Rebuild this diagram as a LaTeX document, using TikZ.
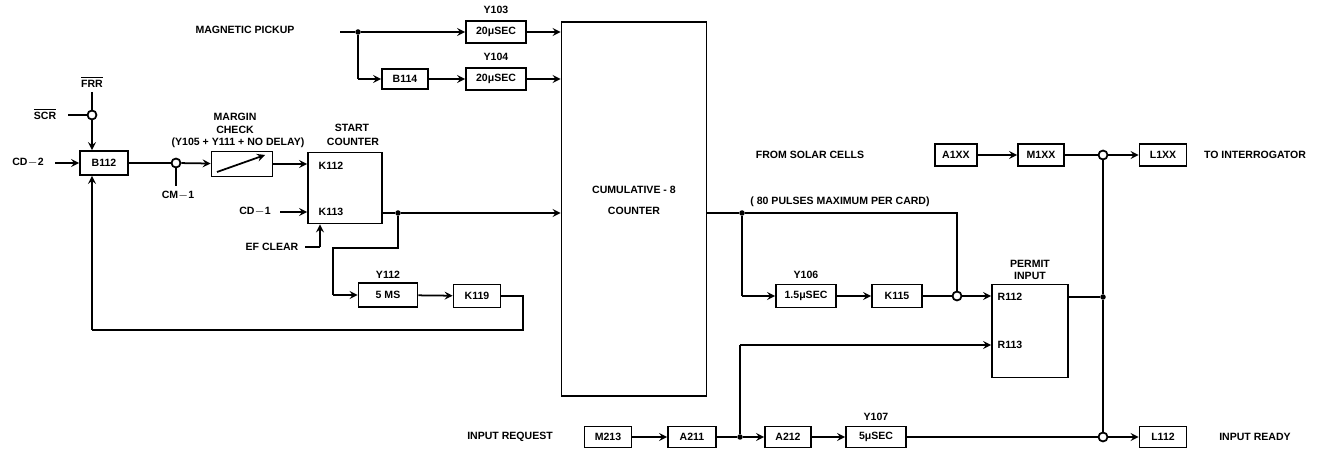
\documentclass[tikz,border=0pt]{standalone}
\usepackage{fontspec}
\setmainfont{Liberation Sans}
\usetikzlibrary{arrows,arrows.meta,calc,positioning}
\newcommand{\lblfont}{\fontsize{6}{7}\selectfont\bfseries}

\begin{document}
\begin{tikzpicture}[x={(0.02cm,0)}, y={(0,-0.02cm)},
  blk/.style={draw, line width=1pt, inner sep=1pt, font=\lblfont, minimum height=0.44cm},
  lbl/.style={inner sep=1pt, font=\lblfont},
  wire/.style={line width=1pt},
  sig/.style={line width=1pt, ->, >=stealth},
  ring/.style={circle, draw, line width=1pt, fill=white, inner sep=0pt, minimum size=0.18cm},
  jdot/.style={circle, fill, inner sep=0pt, minimum size=0.11cm}]
\useasboundingbox (0,0) rectangle (1321,455);
%
% Magnetic pickup
\node[lbl] (mag) at (245,30) {MAGNETIC PICKUP};
\coordinate (magin) at (340,32);
\node[jdot] (mj) at (358,32) {};
\coordinate (mjc) at (358,79);
\node[blk, minimum width=1.2cm] (y103) at (496,32) {20μSEC};
\node[lbl] (y103t) at (496,10) {Y103};
\node[blk, minimum width=0.92cm, minimum height=0.4cm] (b114) at (405,79) {B114};
\node[blk, minimum width=1.2cm] (y104) at (496,79) {20μSEC};
\node[lbl] (y104t) at (496,57) {Y104};
% Cumulative counter
\node[draw, line width=1pt, minimum width=2.9cm, minimum height=7.48cm] (cnt) at (634,209) {};
\node[lbl] (cntt1) at (634,190) {CUMULATIVE - 8};
\node[lbl] (cntt2) at (634,211) {COUNTER};
\draw[wire] (magin) -- (mj);
\draw[sig] (mj) -- (y103);
\draw[wire] (mj) -- (mjc);
\draw[sig] (mjc) -- (b114);
\draw[sig] (b114) -- (y104);
\draw[sig] (y103.east) -- (y103.east -| cnt.west);
\draw[sig] (y104.east) -- (y104.east -| cnt.west);
%
% Bloc B112
\node[lbl] (frr) at (92,82) {$\overline{\mbox{\lblfont FRR}}$};
\node[lbl] (scr) at (45,114) {$\overline{\mbox{\lblfont SCR}}$};
\coordinate (frrc) at (92,92);
\coordinate (scrc) at (68,115);
\node[ring] (r1) at (92,115) {};
\node[blk, minimum width=0.96cm, minimum height=0.48cm] (b112) at (104,163) {B112};
\node[lbl] (cd2) at (28,163) {CD$-$2};
\coordinate (cd2c) at (55,163);
\draw[wire] (frrc) -- (r1);
\draw[wire] (scrc) -- (r1);
\draw[sig] (r1) -- (r1 |- b112.north);
\draw[sig] (cd2c) -- (b112);
\node[ring] (r2) at (176,163) {};
\node[lbl] (cm1) at (178,196) {CM$-$1};
\coordinate (cm1c) at (176,186);
\draw[wire] (r2) -- (cm1c);
% Margin check
\node[blk, minimum width=1.22cm, minimum height=0.5cm] (mrg) at (242,164) {};
\coordinate (mrga) at (217,172);
\coordinate (mrgb) at (265,155);
\draw[sig] (mrga) -- (mrgb);
\node[lbl] (mrgt1) at (235,117) {MARGIN};
\node[lbl] (mrgt2) at (235,130) {CHECK};
\node[lbl] (mrgt3) at (238,143) {(Y105 + Y111 + NO DELAY)};
\draw[wire] (b112) -- (r2);
\draw[sig] (r2) -- (mrg);
% Start counter
\node[draw, line width=1pt, minimum width=1.48cm, minimum height=1.42cm] (stc) at (345,188) {};
\node[lbl] (stct1) at (352,128) {START};
\node[lbl] (stct2) at (353,142) {COUNTER};
\node[lbl] (k112) at (331,166) {K112};
\node[lbl] (k113) at (331,212) {K113};
\node[lbl] (cd1) at (255,212) {CD$-$1};
\coordinate (cd1c) at (280,212);
\node[lbl] (efc) at (272,247) {EF CLEAR};
\coordinate (efca) at (305,247);
\coordinate (efcb) at (320,247);
\draw[sig] (mrg.east) -- (mrg.east -| stc.west);
\draw[sig] (cd1c) -- (cd1c -| stc.west);
\draw[wire] (efca) -- (efcb);
\draw[sig] (efcb) -- (efcb |- stc.south);
\node[jdot] (j1) at (398,213) {};
\draw[wire] (stc.east |- j1) -- (j1);
\draw[sig] (j1) -- (j1 -| cnt.west);
% Y112 loop
\node[blk, minimum width=1.18cm, minimum height=0.48cm] (y112) at (388,295) {5 MS};
\node[lbl] (y112t) at (388,275) {Y112};
\node[blk, minimum width=0.94cm, minimum height=0.46cm] (k119) at (477,296) {K119};
\coordinate (la) at (398,248);
\coordinate (lb) at (333,248);
\coordinate (lc) at (333,295);
\draw[wire] (j1) -- (la) -- (lb) -- (lc);
\draw[sig] (lc) -- (y112);
\draw[sig] (y112) -- (k119);
\coordinate (fa) at (523,296);
\coordinate (fb) at (523,330);
\coordinate (fc) at (92,330);
\draw[wire] (k119) -- (fa) -- (fb) -- (fc);
\draw[sig] (fc) -- (fc |- b112.south);
%
% Solar cells
\node[lbl] (sol) at (810,155) {FROM SOLAR CELLS};
\node[blk, minimum width=0.84cm] (a1xx) at (956,155) {A1XX};
\node[blk, minimum width=0.92cm] (m1xx) at (1041,155) {M1XX};
\node[ring] (r3) at (1103,155) {};
\node[blk, minimum width=0.94cm] (l1xx) at (1163,155) {L1XX};
\node[lbl] (toi) at (1255,155) {TO INTERROGATOR};
\draw[sig] (a1xx) -- (m1xx);
\draw[wire] (m1xx) -- (r3);
\draw[sig] (r3) -- (l1xx);
% Counter output
\node[lbl] (pls) at (840,202) {( 80 PULSES MAXIMUM PER CARD)};
\node[jdot] (j2) at (742,213) {};
\coordinate (oa) at (957,213);
\node[ring] (r4) at (957,296) {};
\draw[wire] (cnt.east |- j2) -- (j2) -- (oa) -- (r4);
\coordinate (ob) at (742,296);
\node[blk, minimum width=1.2cm, minimum height=0.46cm] (y106) at (806,296) {1.5μSEC};
\node[lbl] (y106t) at (806,275) {Y106};
\node[blk, minimum width=1cm, minimum height=0.46cm] (k115) at (897,296) {K115};
\draw[wire] (j2) -- (ob);
\draw[sig] (ob) -- (y106);
\draw[sig] (y106) -- (k115);
\draw[wire] (k115) -- (r4);
% Permit input
\node[draw, line width=1pt, minimum width=1.52cm, minimum height=1.86cm] (prm) at (1030,331) {};
\node[lbl] (prmt1) at (1030,264) {PERMIT};
\node[lbl] (prmt2) at (1030,276) {INPUT};
\node[lbl] (r112) at (1010,297) {R112};
\node[lbl] (r113) at (1010,345) {R113};
\draw[sig] (r4) -- (r4 -| prm.west);
\node[jdot] (j3) at (1103,297) {};
\draw[wire] (prm.east |- j3) -- (j3);
%
% Input request
\node[lbl] (inr) at (510,437) {INPUT REQUEST};
\node[blk, minimum width=0.94cm, minimum height=0.42cm] (m213) at (608,437) {M213};
\node[blk, minimum width=0.96cm, minimum height=0.42cm] (a211) at (692,437) {A211};
\node[jdot] (j4) at (740,437) {};
\node[blk, minimum width=0.92cm, minimum height=0.42cm] (a212) at (788,437) {A212};
\node[blk, minimum width=1.2cm, minimum height=0.42cm] (y107) at (876,437) {5μSEC};
\node[lbl] (y107t) at (876,417) {Y107};
\node[ring] (r5) at (1103,437) {};
\node[blk, minimum width=0.94cm, minimum height=0.42cm] (l112) at (1163,437) {L112};
\node[lbl] (inrd) at (1255,437) {INPUT READY};
\draw[sig] (m213) -- (a211);
\draw[wire] (a211) -- (j4);
\draw[sig] (j4) -- (a212);
\draw[sig] (a212) -- (y107);
\draw[wire] (y107) -- (r5);
\draw[sig] (r5) -- (l112);
\coordinate (ra) at (740,345);
\draw[wire] (j4) -- (ra);
\draw[sig] (ra) -- (ra -| prm.west);
% Right bus
\draw[wire] (r3) -- (j3) -- (r5);
\end{tikzpicture}
\end{document}
